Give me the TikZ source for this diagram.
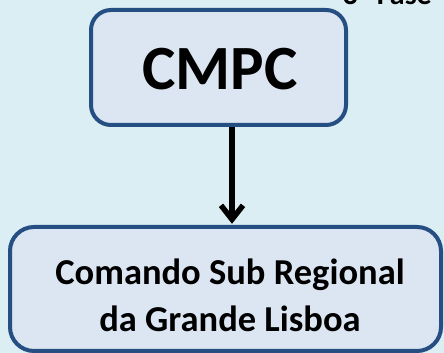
\documentclass[tikz,border=0pt]{standalone}
\usepackage{fontspec}
\setmainfont{Carlito}
\usetikzlibrary{arrows.meta}
\definecolor{bgc}{HTML}{DAEEF3}
\definecolor{boxfill}{HTML}{DCE6F2}
\definecolor{boxline}{HTML}{254E82}
\tikzset{
  orgbox/.style={draw=boxline, line width=4pt, fill=boxfill, rounded corners=20pt},
  conn/.style={line width=5.5pt, -{Straight Barb[length=14pt,width=22pt]}}
}
\begin{document}
\begin{tikzpicture}[x=1pt,y=1pt]
\useasboundingbox (0,0) rectangle (444,353);
\clip (0,0) rectangle (444,353);
\fill[bgc] (0,0) rectangle (444,353);
\draw[orgbox] (91,228) rectangle (346,343);
\node (top) at (218.5,285.5) [minimum width=255pt, minimum height=115pt, inner sep=0pt] {};
\node[font=\bfseries\fontsize{63}{70}\selectfont] (cmpc) at (220,284) {CMPC};
\draw[orgbox, rounded corners=24pt] (10,2) rectangle (441,126);
\node (bot) at (225.5,64) [minimum width=431pt, minimum height=124pt, inner sep=0pt] {};
\node[font=\bfseries\fontsize{36.5}{47}\selectfont, anchor=base] (l1) at (230,68) {Comando Sub Regional};
\node[font=\bfseries\fontsize{36.5}{47}\selectfont, anchor=base] (l2) at (230,21) {da Grande Lisboa};
\node[font=\bfseries\fontsize{30}{36}\selectfont, anchor=base east, inner sep=0pt] (fase) at (432,348) {3ª Fase};
\coordinate (ax) at (232,0);
\draw[conn] ([yshift=-2pt]top.south -| ax) -- ([yshift=3pt]bot.north -| ax);
\end{tikzpicture}
\end{document}
